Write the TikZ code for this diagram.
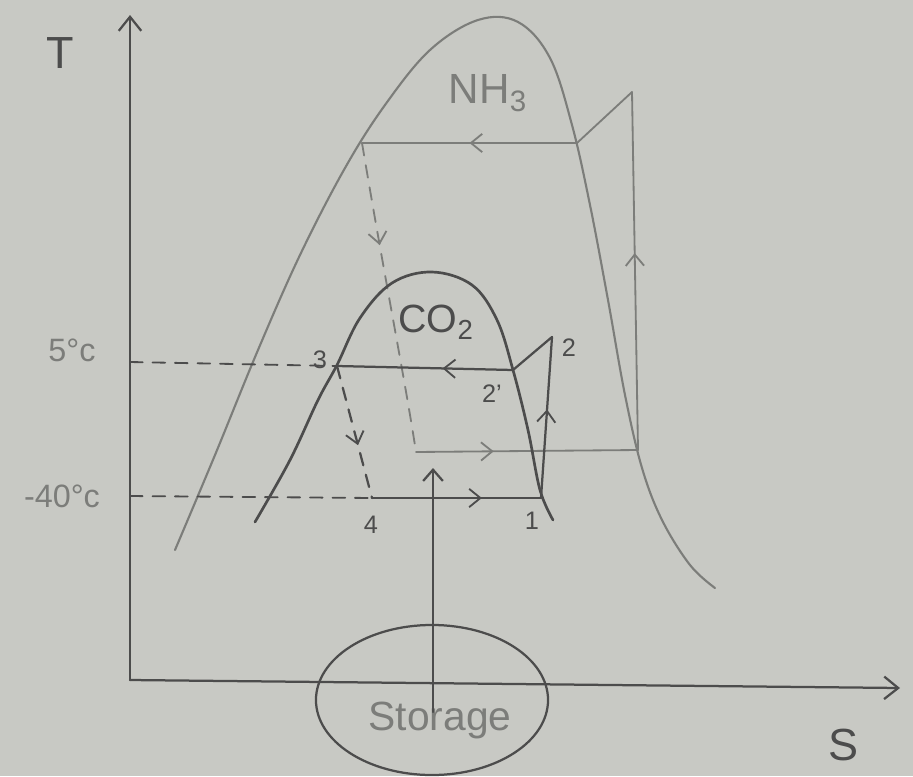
\documentclass[tikz,border=0pt]{standalone}
\usepackage{fontspec}
\setmainfont{Liberation Sans}
\usetikzlibrary{arrows.meta,decorations.markings,shapes.geometric}
\definecolor{paper}{HTML}{C8C9C4}
\definecolor{pencil}{HTML}{4C4C4C}
\definecolor{faint}{HTML}{7C7D7A}
\begin{document}
\begin{tikzpicture}[x=0.025cm,y=-0.025cm,
  dome/.style={line width=1.9pt,pencil,line cap=round,line join=round},
  nhline/.style={line width=1.3pt,faint,line cap=round,line join=round},
  coline/.style={line width=1.6pt,pencil,line cap=round,line join=round},
  dashline/.style={dash pattern=on 9pt off 7pt},
  marrow/.style={postaction={decorate},decoration={markings,
     mark=at position #1 with {\arrow{Straight Barb[length=8pt,width=13pt,line width=1.3pt]}}}},
  lbl/.style={text=pencil,font=\fontsize{18}{18}\selectfont,inner sep=1pt},
  big/.style={text=faint,font=\fontsize{28}{28}\selectfont,inner sep=1pt}]
\fill[paper] (0,0) rectangle (913,776);
\useasboundingbox (0,0) rectangle (913,776);
% axes
\coordinate (O) at (130,680);
\coordinate (Ttop) at (130,15);
\coordinate (Send) at (900,688);
\draw[coline,-{Straight Barb[length=10pt,width=16pt]}] (O) -- (Ttop);
\draw[coline,-{Straight Barb[length=10pt,width=16pt]}] (O) -- (Send);
\node[big,text=pencil,font=\fontsize{32}{32}\selectfont] (Tl) at (60,53) {T};
\node[big,text=pencil,font=\fontsize{32}{32}\selectfont] (Sl) at (843,745) {S};
% NH3 dome
\draw[nhline,line width=1.5pt] plot[smooth,tension=0.6] coordinates {(175,550) (215,455) (258,350) (300,255) (345,168) (385,105) (430,50) (478,20) (518,22) (550,58) (572,125) (590,205) (608,300) (625,395) (642,468) (662,520) (690,565) (715,588)};
\node[big,font=\fontsize{30}{30}\selectfont] (nh3) at (488,93) {NH\textsubscript{3}};
% NH3 cycle
\coordinate (a) at (362,143);
\coordinate (b) at (577,143);
\coordinate (c) at (632,92);
\coordinate (d) at (638,450);
\coordinate (e) at (416,452);
\draw[nhline,marrow=0.5] (b) -- (a);
\draw[nhline] (b) -- (c);
\draw[nhline,marrow=0.55] (d) -- (c);
\draw[nhline,marrow=0.35] (e) -- (d);
\draw[nhline,dashline,marrow=0.33] (a) .. controls (385,280) and (405,380) .. (e);
% CO2 dome
\draw[dome] plot[smooth,tension=0.6] coordinates {(255,522) (290,460) (318,400) (337,365) (360,318) (392,283) (432,272) (472,285) (497,320) (513,370) (528,430) (540,490) (553,520)};
\node[big,text=pencil,font=\fontsize{28}{28}\selectfont] (co2) at (436,322) {CO\textsubscript{2}};
% CO2 cycle
\coordinate (p3) at (337,366);
\coordinate (p2s) at (513,370);
\coordinate (p2) at (552,337);
\coordinate (p1) at (541,498);
\coordinate (p4) at (372,498);
\draw[coline,marrow=0.4] (p2s) -- (p3);
\draw[coline] (p2s) -- (p2);
\draw[coline,marrow=0.55] (p1) -- (p2);
\draw[coline,marrow=0.65] (p4) -- (p1);
\draw[coline,dashline,marrow=0.6] (p3) -- (p4);
\node[lbl] (l3) at (320,360) {3};
\node[lbl] (l2) at (569,348) {2};
\node[lbl] (l2s) at (492,394) {2'};
\node[lbl] (l1) at (532,521) {1};
\node[lbl] (l4) at (371,525) {4};
% temperature levels
\coordinate (t5) at (130,362);
\coordinate (t40) at (130,496);
\draw[coline,dashline,line width=1.3pt] (t5) -- (p3);
\draw[coline,dashline,line width=1.3pt] (t40) -- (p4);
\node[big,font=\fontsize{23}{23}\selectfont] (l5) at (72,350) {5°c};
\node[big,font=\fontsize{23}{23}\selectfont] (l40) at (62,496) {-40°c};
% storage
\node[draw=pencil,line width=1.6pt,ellipse,minimum width=5.8cm,minimum height=3.75cm,inner sep=0pt] (storage) at (432,700) {};
\node[big,text=faint,font=\fontsize{29}{29}\selectfont] (stl) at (440,720) {Storage};
\coordinate (sbot) at (433,712);
\coordinate (stop) at (433,468);
\draw[coline,-{Straight Barb[length=8pt,width=14pt]}] (sbot) -- (stop);
\end{tikzpicture}
\end{document}
